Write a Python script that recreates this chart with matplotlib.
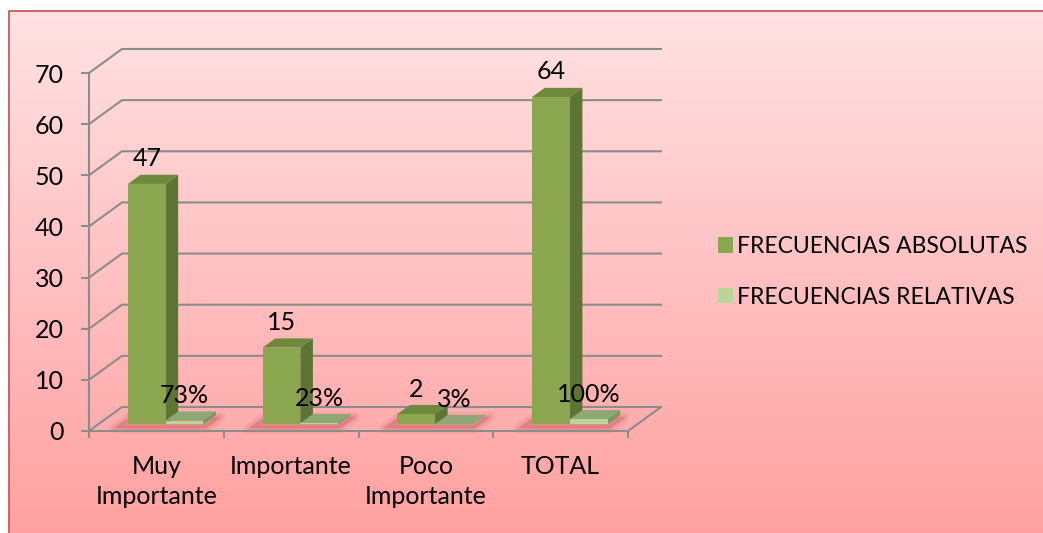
import numpy as np
import matplotlib.pyplot as plt
import matplotlib.transforms as mtransforms
from matplotlib.patches import Polygon, Patch

# data
categories = ["Muy\nImportante", "Importante", "Poco\nImportante", "TOTAL"]
absolutas = [47, 15, 2, 64]
relativas = [0.73, 0.23, 0.03, 1.00]
series_names = ["FRECUENCIAS ABSOLUTAS", "FRECUENCIAS RELATIVAS"]
yticks = [0, 10, 20, 30, 40, 50, 60, 70]

plt.rcParams['font.family'] = ['Lato', 'DejaVu Sans']

W, H = 1043, 533
fig = plt.figure(figsize=(W / 100, H / 100), dpi=100)

# pink gradient background with a thin red border (left and top only visible)
bg = fig.add_axes([0, 0, 1, 1], zorder=-5)
top = np.array([255, 226, 228]) / 255
bot = np.array([255, 160, 160]) / 255
t = np.linspace(0, 1, 512)[:, None, None]
grad = top * (1 - t) + bot * t
grad = np.repeat(grad, 2, axis=1)
bg.imshow(grad, extent=[9, W, H, 11], aspect='auto', interpolation='nearest')
bg.plot([9, 9, W], [H, 11, 11], color='#C0504D', lw=1.2)
bg.set_xlim(0, W)
bg.set_ylim(H, 0)
bg.axis('off')

# front plane of the 3D chart
ax = fig.add_axes([89 / W, (H - 431) / H, (628 - 89) / W, (431 - 73) / H])
ax.set_facecolor('none')
ax.set_xlim(-0.5, 3.5)
ax.set_ylim(0, 70)
fig.canvas.draw()

DX, DY = 33, 24          # full depth of the chart, pixels
F0, FD = 0.28, 0.38      # bar depth position and thickness (fraction)
grid_c = '#8C8C8C'
ident = mtransforms.IdentityTransform()


def proj(x, v, f):
    px, py = ax.transData.transform((x, v))
    return (px + f * DX, py + f * DY)


# gridlines on the back wall and left wall
for v in yticks:
    pts = [proj(-0.5, v, 0), proj(-0.5, v, 1), proj(3.5, v, 1)]
    ax.plot(*zip(*pts), color=grid_c, lw=1.5, transform=ident, clip_on=False, zorder=1)
ax.plot(*zip(proj(3.5, 0, 0), proj(3.5, 0, 1)), color=grid_c, lw=1.5,
        transform=ident, clip_on=False, zorder=1)


def bar3d(x0, x1, h, front, side, topc):
    p = proj
    faces = [
        ([p(x1, 0, F0), p(x1, 0, F0 + FD), p(x1, h, F0 + FD), p(x1, h, F0)], side),
        ([p(x0, h, F0), p(x1, h, F0), p(x1, h, F0 + FD), p(x0, h, F0 + FD)], topc),
        ([p(x0, 0, F0), p(x1, 0, F0), p(x1, h, F0), p(x0, h, F0)], front),
    ]
    for pts, c in faces:
        ax.add_patch(Polygon(pts, closed=True, facecolor=c, edgecolor='none',
                             transform=ident, clip_on=False, zorder=3))


bw = 0.28
colors1 = ('#8AA64F', '#5D7433', '#6E883C')
colors2 = ('#B9D598', '#7E9660', '#8FA774')
for i in range(len(categories)):
    xa0 = i - bw
    xb0 = i
    # soft shadow on the floor
    for k, a in zip([8, 5, 2], [0.07, 0.09, 0.12]):
        sh = [proj(xa0 - 0.04, 0, F0 - 0.08), proj(xb0 + bw + 0.07, 0, F0 - 0.08),
              proj(xb0 + bw + 0.07, 0, F0 + FD), proj(xa0 - 0.04, 0, F0 + FD)]
        sh = [(x - 5, y - 2) for x, y in sh]
        ax.add_patch(Polygon(sh, closed=True, facecolor='#B04848', edgecolor='#B04848',
                             alpha=a, transform=ident, clip_on=False, zorder=2,
                             joinstyle='round', lw=k))
    bar3d(xa0, xa0 + bw, absolutas[i], *colors1)
    bar3d(xb0, xb0 + bw, relativas[i], *colors2)

    # data labels
    for xc, v, s in [(xa0 + bw / 2, absolutas[i], str(absolutas[i])),
                     (xb0 + bw / 2, relativas[i], f"{relativas[i]:.0%}")]:
        ax.annotate(s, (xc, v), xytext=(F0 * DX * 0.72, (F0 * DY + 25) * 0.72),
                    textcoords='offset points', ha='center', va='center',
                    fontsize=18, color='black', zorder=5, annotation_clip=False)

# axes styling
for side in ['top', 'right']:
    ax.spines[side].set_visible(False)
for side in ['left', 'bottom']:
    ax.spines[side].set_color(grid_c)
    ax.spines[side].set_linewidth(1.5)
ax.set_yticks(yticks)
ax.tick_params(axis='y', length=6, width=1.5, color=grid_c, pad=12, labelsize=18)
ax.set_xticks(range(len(categories)))
ax.set_xticklabels(categories, fontsize=18, linespacing=1.4)
ax.set_xticks([-0.5, 0.5, 1.5, 2.5, 3.5], minor=True)
ax.tick_params(axis='x', which='major', length=0, pad=17)
ax.tick_params(axis='x', which='minor', length=5, width=1.5, color=grid_c)

handles = [Patch(facecolor=colors1[0]), Patch(facecolor=colors2[0])]
fig.legend(handles, series_names, loc='center left', bbox_to_anchor=(697 / W, 0.49),
           frameon=False, fontsize=16.5, handlelength=0.65, handleheight=0.65,
           handletextpad=0.2, labelspacing=1.3)

fig.savefig('out.png', dpi=100)
